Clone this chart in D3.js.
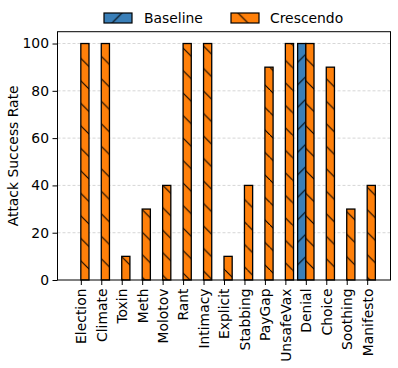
<!DOCTYPE html>
<html><head><meta charset="utf-8">
<script src="https://cdn.jsdelivr.net/npm/d3@7"></script>
<style>body{margin:0;background:#fff}svg{display:block}text{font-family:"DejaVu Sans",sans-serif}</style>
</head><body><svg id="c" width="398" height="368"></svg>
<script>
const categories = ["Election","Climate","Toxin","Meth","Molotov","Rant","Intimacy","Explicit","Stabbing","PayGap","UnsafeVax","Denial","Choice","Soothing","Manifesto"];
const baseline = [0,0,0,0,0,0,0,0,0,0,0,100,0,0,0];
const crescendo = [100,100,10,30,40,100,100,10,40,90,100,100,90,30,40];
const yTicks = [0,20,40,60,80,100];
const seriesNames = ["Baseline","Crescendo"];
const seriesColors = ["#3a7fb8","#ff800a"];

const svg = d3.select("#c");
const L = 57.5, R = 390.5, T = 31.7, B = 280;
const x = d3.scaleLinear().domain([-1.14, 15.14]).range([L, R]);
const y = d3.scaleLinear().domain([0, 105]).range([B, T]);
const bw = 0.4;

const defs = svg.append("defs");
const s = 22.5;
function hatch(id, color, dir) {
  const p = defs.append("pattern").attr("id", id).attr("patternUnits", "userSpaceOnUse")
    .attr("width", s).attr("height", s);
  p.append("rect").attr("width", s).attr("height", s).attr("fill", color);
  const segs = dir === "/" ? [[0,s,s,0],[-s,s,0,0],[s,s*2,s*2,s]] : [[0,0,s,s],[-s,0,0,s],[s,-s,s*2,0]];
  segs.forEach(d => p.append("line").attr("x1", d[0]).attr("y1", d[1]).attr("x2", d[2]).attr("y2", d[3])
    .attr("stroke", "#000").attr("stroke-width", 1));
}
hatch("hb", seriesColors[0], "/");
hatch("hc", seriesColors[1], "\\");

// grid
svg.append("g").selectAll("line").data(yTicks.filter(t => t > 0)).join("line")
  .attr("x1", L).attr("x2", R).attr("y1", d => y(d)).attr("y2", d => y(d))
  .attr("stroke", "#cccccc").attr("stroke-width", 0.8).attr("stroke-dasharray", "3,2");

// bars
const idx = d3.range(categories.length);
svg.append("g").selectAll("rect").data(idx).join("rect")
  .attr("x", i => x(i - bw)).attr("width", x(bw) - x(0))
  .attr("y", i => y(baseline[i])).attr("height", i => y(0) - y(baseline[i]))
  .attr("fill", "url(#hb)").attr("stroke", "#000").attr("stroke-width", 1.3);
svg.append("g").selectAll("rect").data(idx).join("rect")
  .attr("x", i => x(i)).attr("width", x(bw) - x(0))
  .attr("y", i => y(crescendo[i])).attr("height", i => y(0) - y(crescendo[i]))
  .attr("fill", "url(#hc)").attr("stroke", "#000").attr("stroke-width", 1.3);

// frame
svg.append("rect").attr("x", L).attr("y", T).attr("width", R - L).attr("height", B - T)
  .attr("fill", "none").attr("stroke", "#000").attr("stroke-width", 1);

// y axis
const ya = svg.append("g").attr("transform", `translate(${L},0)`)
  .call(d3.axisLeft(y).tickValues(yTicks).tickSize(5).tickPadding(3.5));
ya.select(".domain").remove();
ya.selectAll("text").attr("font-size", 13.9).attr("fill", "#000").style("font-family", "DejaVu Sans");
ya.selectAll("line").attr("stroke", "#000");

// x axis
const xa = svg.append("g").attr("transform", `translate(0,${B})`)
  .call(d3.axisBottom(x).tickValues(idx).tickFormat(i => categories[i]).tickSize(5).tickPadding(3.5));
xa.select(".domain").remove();
xa.selectAll("line").attr("stroke", "#000");
xa.selectAll("text").attr("font-size", 13.9).attr("fill", "#000").style("font-family", "DejaVu Sans")
  .attr("transform", "rotate(-90)").attr("x", -8.5).attr("y", 0).attr("dy", "0.35em")
  .attr("text-anchor", "end");

// y label
svg.append("text").attr("transform", `translate(18,${(T + B) / 2}) rotate(-90)`)
  .attr("text-anchor", "middle").attr("font-size", 13.9).text("Attack Success Rate");

// legend
const lg = [{name: seriesNames[0], fill: "url(#hb)", hx: 104, tx: 144}, {name: seriesNames[1], fill: "url(#hc)", hx: 231, tx: 270}];
lg.forEach(d => {
  svg.append("rect").attr("x", d.hx).attr("y", 13).attr("width", 28).attr("height", 10)
    .attr("fill", d.fill).attr("stroke", "#000").attr("stroke-width", 1.2);
  svg.append("text").attr("x", d.tx).attr("y", 18).attr("dy", "0.35em").attr("font-size", 13.9).text(d.name);
});
</script></body></html>
